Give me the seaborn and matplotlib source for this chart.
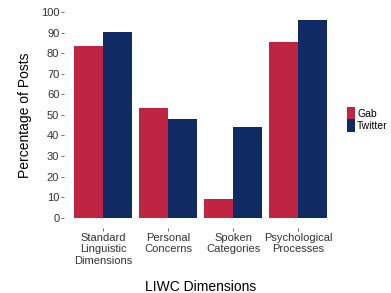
import pandas as pd
import matplotlib.pyplot as plt
import seaborn as sns

# --- data ---
categories = ["Standard\nLinguistic\nDimensions", "Personal\nConcerns",
              "Spoken\nCategories", "Psychological\nProcesses"]
gab = [83.5, 53.3, 9.2, 85.4]
twitter = [90.3, 48.0, 44.0, 96.0]
platforms = ["Gab", "Twitter"]
colors = {"Gab": "#BF2442", "Twitter": "#102A63"}

df = pd.DataFrame({
    "dimension": categories * 2,
    "platform": ["Gab"] * len(gab) + ["Twitter"] * len(twitter),
    "pct": gab + twitter,
})

sns.set_style("white")
plt.rcParams["font.family"] = ["Liberation Sans", "DejaVu Sans"]

fig = plt.figure(figsize=(3.91, 2.93), dpi=100)
ax = fig.add_axes([0.164, 0.222, 0.698, 0.772])

sns.barplot(data=df, x="dimension", y="pct", hue="platform", hue_order=platforms,
            palette=colors, width=0.9, saturation=1, linewidth=0, ax=ax, legend=True)

ax.set_xlim(-0.6, 3.6)
ax.set_ylim(-5, 105)
ax.set_yticks(range(0, 101, 10))
for s in ax.spines.values():
    s.set_visible(False)
ax.tick_params(axis="both", bottom=True, left=True, length=2, width=0.6,
               color="#555555", labelsize=8, labelcolor="#333333", pad=1.5,
               direction="out")
ax.set_xlabel("LIWC Dimensions", fontsize=10, labelpad=10, color="black")
ax.set_ylabel("Percentage of Posts", fontsize=10, labelpad=6, color="black")

leg = ax.legend(title=None, frameon=False, fontsize=7.5, loc="center left",
                bbox_to_anchor=(1.035, 0.48), handlelength=0.85, handleheight=1.45,
                handletextpad=0.15, labelspacing=0.0, borderaxespad=0,
                borderpad=0)
for t in leg.get_texts():
    t.set_color("black")

fig.savefig("out.png", dpi=100)
